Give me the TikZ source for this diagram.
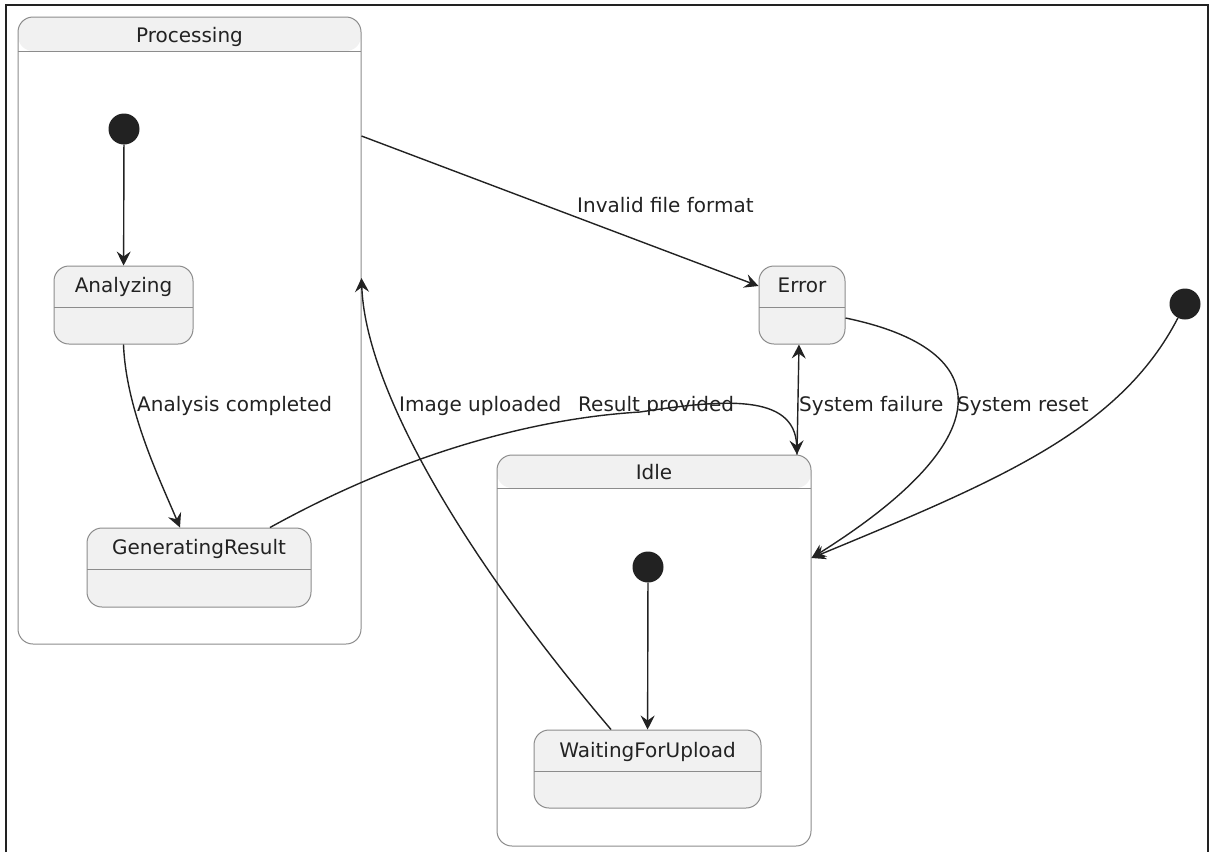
\documentclass[tikz,border=0pt]{standalone}
\usepackage{fontspec}
\setmainfont{DejaVu Sans}
\usetikzlibrary{arrows.meta}
\definecolor{statefill}{HTML}{F1F1F1}
\definecolor{bordergray}{HTML}{8C8C8C}
\definecolor{ink}{HTML}{222222}
\begin{document}
\begin{tikzpicture}[x=1pt, y=-1pt,
  every node/.style={font=\fontsize{20}{24}\selectfont, text=ink},
  box/.style={draw=bordergray, line width=1pt, rounded corners=15pt, inner sep=0pt},
  % composite state: white body, grey header band of height #1
  composite/.style={box, fill=white, path picture={
      \fill[statefill] ([yshift=2pt]path picture bounding box.north west) rectangle ([yshift=-#1]path picture bounding box.north east);
      \draw[bordergray, line width=1pt] ([yshift=-#1]path picture bounding box.north west) -- ([yshift=-#1]path picture bounding box.north east);}},
  % simple state: grey body with divider at #1 below the top
  simple/.style={box, fill=statefill, path picture={
      \draw[bordergray, line width=1pt] ([yshift=-#1]path picture bounding box.north west) -- ([yshift=-#1]path picture bounding box.north east);}},
  initial/.style={circle, fill=ink, minimum size=31pt, inner sep=0pt},
  trans/.style={draw=ink, line width=1.4pt, -{Stealth[length=14pt, width=14pt, inset=5pt]}},
  lbl/.style={anchor=base west, inner sep=0pt}
]
\useasboundingbox (0,0) rectangle (1212,852);

% outer frame (open at the bottom)
\draw[ink, line width=2pt] (6,852) -- (6,5) -- (1208,5) -- (1208,852);

% composite states
\node[composite=34pt, minimum width=343pt, minimum height=627pt,
      label={[anchor=base, inner sep=0pt, label distance=-26pt]90:Processing}] (proc) at (189.5,330.5) {};
\node[composite=33pt, minimum width=314pt, minimum height=391pt,
      label={[anchor=base, inner sep=0pt, label distance=-25pt]90:Idle}] (idle) at (654,650.5) {};

% simple states
\node[simple=41pt, minimum width=139pt, minimum height=78pt,
      label={[anchor=base, inner sep=0pt, label distance=-27pt]90:Analyzing}] (ana) at (123.5,305) {};
\node[simple=41pt, minimum width=224pt, minimum height=79pt,
      label={[anchor=base, inner sep=0pt, label distance=-27pt]90:GeneratingResult}] (gen) at (199,567.5) {};
\node[simple=41pt, minimum width=86pt, minimum height=78pt,
      label={[anchor=base, inner sep=0pt, label distance=-27pt]90:Error}] (err) at (802,305) {};
\node[simple=41pt, minimum width=227pt, minimum height=78pt,
      label={[anchor=base, inner sep=0pt, label distance=-28pt]90:WaitingForUpload}] (wait) at (647.5,769) {};

% initial pseudo-states
\node[initial] (init1) at (124,129) {};
\node[initial] (init2) at (648,567) {};
\node[initial] (init3) at (1185,304) {};

% transitions
\draw[trans] (init1) -- (ana);
\draw[trans] (init2) -- (wait);
\draw[trans] (ana.south) .. controls (126,410) and (160,480) .. ([xshift=-19pt]gen.north);
\draw[trans] ([yshift=194.5pt]proc.east) -- ([yshift=19pt]err.west);
\draw[trans] ([xshift=-36.5pt]wait.north) .. controls (450,540) and (365,380) .. ([yshift=52.5pt]proc.east);
\draw[trans] ([xshift=71pt]gen.north) .. controls (410,450) and (540,418) .. (640,412)
             .. controls (720,400) and (795,392) .. ([xshift=143pt]idle.north);
\draw[trans] ([xshift=143pt]idle.north) -- ([xshift=-3pt]err.south);
\draw[trans] ([yshift=-13pt]err.east) .. controls (1000,350) and (1000,440) .. ([yshift=92.5pt]idle.east);
\draw[trans] (init3.243) .. controls (1120,430) and (1000,480) .. ([yshift=92.5pt]idle.east);

% transition labels
\node[lbl] (lInvalid) at (577,212) {Invalid file format};
\node[lbl] (lAnalysis) at (137,411) {Analysis completed};
\node[lbl] (lImage) at (399,411) {Image uploaded};
\node[lbl] (lResult) at (578,411) {Result provided};
\node[lbl] (lFailure) at (799,411) {System failure};
\node[lbl] (lReset) at (957,411) {System reset};
\end{tikzpicture}
\end{document}
